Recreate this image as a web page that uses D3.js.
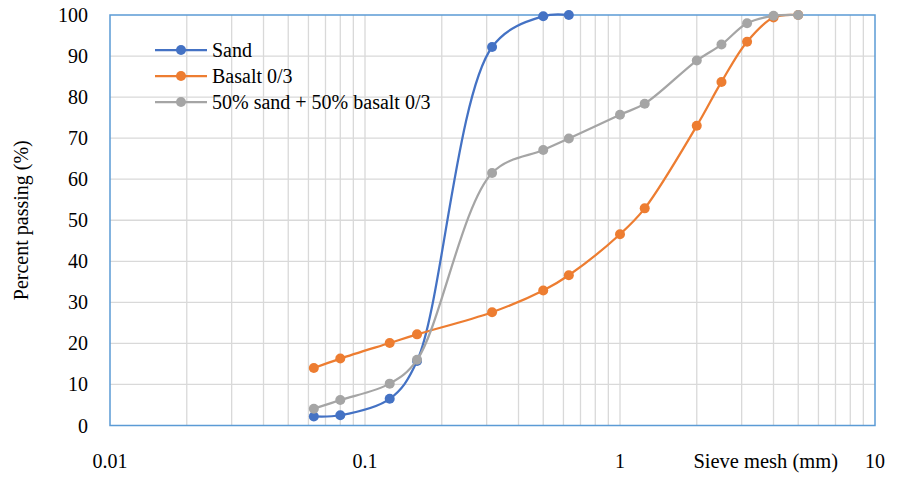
<!DOCTYPE html>
<html>
<head>
<meta charset="utf-8">
<script src="https://cdn.jsdelivr.net/npm/d3@7"></script>
<style>
  body { margin: 0; background: #fff; }
  svg text { font-family: "Liberation Serif", "Times New Roman", serif; fill: #000; }
</style>
</head>
<body>
<div id="chart"></div>
<script>
// sieve sizes (mm)
const sieves = [0.063, 0.08, 0.125, 0.16, 0.315, 0.5, 0.63, 1, 1.25, 2, 2.5, 3.15, 4, 5];

// percent passing for each material
const sand = [2.2, 2.5, 6.5, 15.7, 92.2, 99.7, 100];
const basalt = [14.0, 16.3, 20.1, 22.2, 27.6, 32.9, 36.6, 46.6, 52.9, 73.0, 83.7, 93.5, 99.4, 100];
const mix = [4.1, 6.2, 10.2, 16.0, 61.5, 67.1, 69.9, 75.7, 78.4, 88.9, 92.8, 98.0, 99.8, 100];

const seriesNames = ["Sand", "Basalt 0/3", "50% sand + 50% basalt 0/3"];
const seriesColors = ["#4472C4", "#ED7D31", "#A5A5A5"];

const xTicks = [0.01, 0.1, 1, 10];
const yTicks = [0, 10, 20, 30, 40, 50, 60, 70, 80, 90, 100];

// set the dimensions and margins of the graph
const width = 901, height = 477;
const margin = { top: 15, right: 26, bottom: 51.5, left: 110 };

const svg = d3.select("#chart")
    .append("svg")
    .attr("width", width)
    .attr("height", height);

const x = d3.scaleLog()
    .domain([0.01, 10])
    .range([margin.left, width - margin.right]);

const y = d3.scaleLinear()
    .domain([0, 100])
    .range([height - margin.bottom, margin.top]);

// vertical grid: 1..9 in every decade
const minor = [];
[0.01, 0.1, 1].forEach(d => { for (let k = 2; k <= 9; k++) minor.push(d * k); });
minor.push(0.1, 1);

svg.append("g")
    .selectAll("line")
    .data(minor)
    .join("line")
    .attr("x1", d => x(d)).attr("x2", d => x(d))
    .attr("y1", y(0)).attr("y2", y(100))
    .attr("stroke", "#D9D9D9")
    .attr("stroke-width", 1.3);

svg.append("g")
    .selectAll("line")
    .data(yTicks.slice(1, -1))
    .join("line")
    .attr("x1", x(0.01)).attr("x2", x(10))
    .attr("y1", d => y(d)).attr("y2", d => y(d))
    .attr("stroke", "#D9D9D9")
    .attr("stroke-width", 1.3);

// plot border
svg.append("rect")
    .attr("x", x(0.01))
    .attr("y", y(100))
    .attr("width", x(10) - x(0.01))
    .attr("height", y(0) - y(100))
    .attr("fill", "none")
    .attr("stroke", "#5B9BD5")
    .attr("stroke-width", 1.5);

// y axis labels
svg.append("g")
    .selectAll("text")
    .data(yTicks)
    .join("text")
    .attr("x", x(0.01) - 22)
    .attr("y", d => y(d))
    .attr("dy", "0.35em")
    .attr("text-anchor", "end")
    .style("font-size", "20px")
    .text(d => d);

// x axis labels
svg.append("g")
    .selectAll("text")
    .data(xTicks)
    .join("text")
    .attr("x", d => x(d))
    .attr("y", 468)
    .attr("text-anchor", "middle")
    .style("font-size", "20px")
    .text(d => d);

svg.append("text")
    .attr("x", 838)
    .attr("y", 468)
    .attr("text-anchor", "end")
    .style("font-size", "20.5px")
    .text("Sieve mesh (mm)");

svg.append("text")
    .attr("transform", `translate(28,${(y(0) + y(100)) / 2}) rotate(-90)`)
    .attr("text-anchor", "middle")
    .style("font-size", "20px")
    .text("Percent passing (%)");

// the lines
const allSeries = [sand, basalt, mix].map((vals, i) => ({
    name: seriesNames[i],
    color: seriesColors[i],
    points: vals.map((v, j) => ({ s: sieves[j], v: v }))
}));

const line = d3.line()
    .x(d => x(d.s))
    .y(d => y(d.v))
    .curve(d3.curveCatmullRom);

allSeries.forEach(ser => {
    const g = svg.append("g");
    g.append("path")
        .datum(ser.points)
        .attr("fill", "none")
        .attr("stroke", ser.color)
        .attr("stroke-width", 2.25)
        .attr("d", line);
    g.selectAll("circle")
        .data(ser.points)
        .join("circle")
        .attr("cx", d => x(d.s))
        .attr("cy", d => y(d.v))
        .attr("r", 5)
        .attr("fill", ser.color);
});

// legend
const legend = svg.append("g")
    .selectAll("g")
    .data(allSeries)
    .join("g")
    .attr("transform", (d, i) => `translate(155,${50 + i * 26})`);

legend.append("line")
    .attr("x1", 0).attr("x2", 52)
    .attr("stroke", d => d.color)
    .attr("stroke-width", 2.25);

legend.append("circle")
    .attr("cx", 26)
    .attr("r", 5)
    .attr("fill", d => d.color);

legend.append("text")
    .attr("x", 57)
    .attr("dy", "0.35em")
    .style("font-size", "20px")
    .text(d => d.name);
</script>
</body>
</html>
